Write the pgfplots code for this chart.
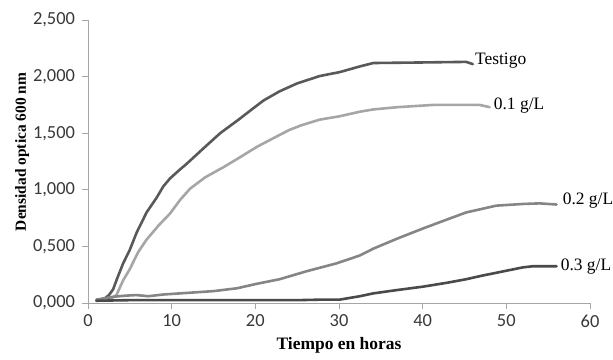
\documentclass[border=0pt]{standalone}
\usepackage{fontspec}
\setmainfont{Liberation Serif}
\newfontfamily\carlito{Carlito}
\usepackage{pgfplots}
\pgfplotsset{compat=1.18}
\definecolor{axgray}{HTML}{A6A6A6}
\definecolor{cT}{HTML}{595959}
\definecolor{cA}{HTML}{A6A6A6}
\definecolor{cB}{HTML}{858585}
\definecolor{cC}{HTML}{4A4A4A}
\begin{document}
\begin{tikzpicture}
\begin{axis}[
  at={(0,0)}, anchor=south west,
  scale only axis, width=502bp, height=283bp,
  xmin=0, xmax=60, ymin=0, ymax=2.5,
  axis x line=bottom, axis y line=left,
  axis line style={axgray, line width=0.8bp, -},
  xtick={0,10,...,60}, ytick={0,0.5,...,2.5},
  xticklabels={0,10,20,30,40,50,60},
  yticklabels={{0,000},{0,500},{1,000},{1,500},{2,000},{2,500}},
  tick style={axgray, line width=0.8bp},
  major tick length=5.5bp,
  xtick align=outside, ytick align=outside,
  ticklabel style={font=\carlito\fontsize{18.5}{21}\selectfont, text=black!78},
  xticklabel style={yshift=-3bp},
  yticklabel style={xshift=-4bp},
  xlabel={\textbf{Tiempo en horas}},
  ylabel={\textbf{Densidad optica 600 nm}},
  xlabel style={at={(axis description cs:0.5,-0.148)}, anchor=center, font=\fontsize{17.5}{20}\selectfont},
  ylabel style={at={(axis description cs:-0.131,0.534)}, anchor=center, font=\fontsize{15.5}{18}\selectfont},
  clip=false,
  every axis plot/.append style={line width=2.6bp, line join=round, line cap=round, mark=none},
]
\addplot[cT] coordinates {(1,0.02) (2,0.04) (2.5,0.07) (3,0.12) (3.5,0.22) (4.2,0.35) (5,0.47) (5.8,0.62) (7,0.8) (8.2,0.93) (9,1.03) (9.8,1.1) (11,1.18) (11.8,1.23) (14,1.38) (15.8,1.50) (18,1.62) (19.75,1.72) (21,1.79) (22.9,1.87) (25,1.94) (27.7,2.005) (30.1,2.04) (32.5,2.09) (34.1,2.12) (40,2.125) (45.2,2.13) (46,2.11)}
  node[pos=1, anchor=west, text=black, font=\fontsize{17.5}{20}\selectfont, inner sep=1bp, yshift=4bp] {Testigo};
\addplot[cA] coordinates {(1,0.02) (2,0.03) (3,0.05) (3.4,0.07) (4.2,0.2) (5,0.3) (6,0.45) (7,0.56) (8.5,0.69) (9.8,0.79) (11,0.91) (12.2,1.01) (14,1.11) (16.2,1.20) (18,1.28) (20.2,1.38) (22,1.45) (24.1,1.53) (25.5,1.57) (27.7,1.62) (30.1,1.65) (32.5,1.69) (34.1,1.71) (37,1.73) (41.3,1.75) (46.8,1.75) (48,1.73)}
  node[pos=1, anchor=west, text=black, font=\fontsize{17.5}{20}\selectfont, inner sep=1bp, yshift=2bp, xshift=2bp] {0.1 g/L};
\addplot[cB] coordinates {(1,0.03) (3,0.055) (4.5,0.065) (5.8,0.07) (7.2,0.06) (9,0.075) (11,0.085) (15,0.105) (17.8,0.13) (20.2,0.17) (22.9,0.21) (26.1,0.28) (29.7,0.35) (32.5,0.42) (34.1,0.48) (37,0.57) (40.1,0.66) (43,0.74) (45.2,0.80) (48.8,0.86) (52,0.875) (54,0.88) (56,0.87)}
  node[pos=1, anchor=west, text=black, font=\fontsize{17.5}{20}\selectfont, inner sep=1bp, yshift=4bp, xshift=4bp] {0.2 g/L};
\addplot[cC] coordinates {(1,0.02) (5,0.025) (10,0.025) (15,0.025) (20,0.025) (25,0.025) (28,0.03) (30.1,0.03) (32.5,0.06) (34.1,0.085) (37,0.115) (40.1,0.145) (43,0.18) (45.2,0.21) (47,0.24) (50,0.285) (52,0.315) (53.2,0.325) (56,0.325)}
  node[pos=1, anchor=west, text=black, font=\fontsize{17.5}{20}\selectfont, inner sep=1bp, xshift=2bp] {0.3 g/L};
\end{axis}
\pgfresetboundingbox
\path (-88bp,-57bp) rectangle (525bp,303bp);
\end{tikzpicture}
\end{document}
